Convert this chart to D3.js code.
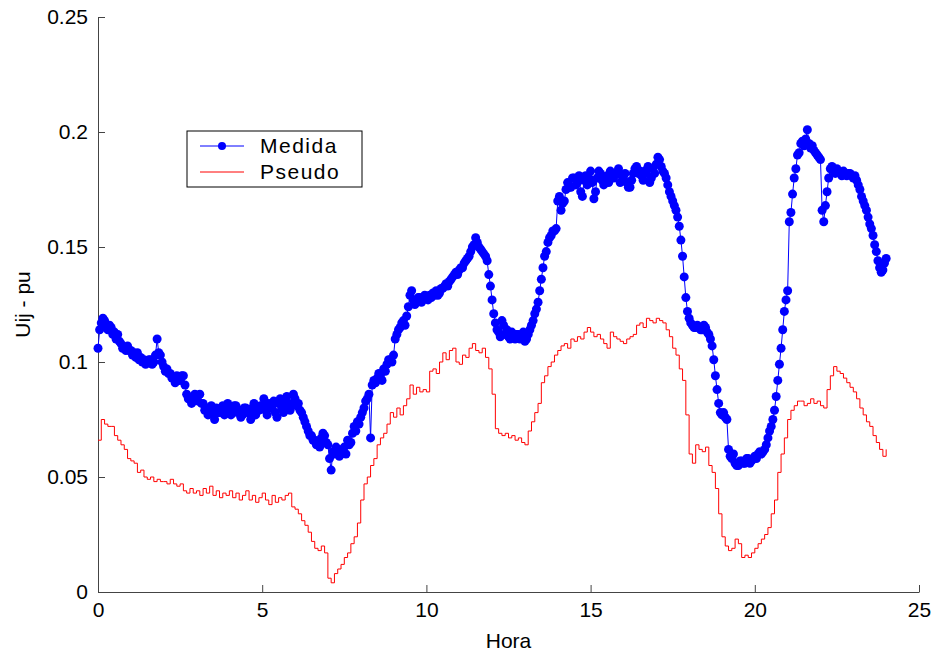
<!DOCTYPE html>
<html>
<head>
<meta charset="utf-8">
<script src="https://cdn.jsdelivr.net/npm/d3@7"></script>
<style>
  body { margin: 0; background: #fff; }
  svg { display: block; font-family: "Liberation Sans", Arial, sans-serif; }
  .axis path, .axis line { stroke: #444; }
  .axis text { font-size: 21px; fill: #000; }
</style>
</head>
<body>
<svg id="chart" width="935" height="657"></svg>
<script>
// Medida sampled every 0.05 h, Pseudo every 0.1 h (0 .. 24 h)
var medidaStep = 0.05;
var pseudoStep = 0.1;

var medida = [
  0.106, 0.114, 0.117, 0.119, 0.118, 0.115, 0.114, 0.116, 0.115, 0.112, 0.113, 0.110, 0.112, 0.109, 0.108, 0.106, 0.106, 0.105, 0.107, 0.105,
  0.105, 0.103, 0.104, 0.102, 0.104, 0.101, 0.102, 0.100, 0.101, 0.099, 0.100, 0.101, 0.101, 0.099, 0.100, 0.103, 0.110, 0.104, 0.103, 0.100,
  0.098, 0.096, 0.097, 0.095, 0.095, 0.093, 0.093, 0.091, 0.094, 0.092, 0.092, 0.094, 0.094, 0.090, 0.086, 0.084, 0.084, 0.082, 0.083, 0.086,
  0.085, 0.083, 0.086, 0.082, 0.082, 0.079, 0.080, 0.077, 0.079, 0.081, 0.077, 0.075, 0.080, 0.078, 0.078, 0.080, 0.081, 0.077, 0.079, 0.082,
  0.080, 0.077, 0.078, 0.081, 0.081, 0.078, 0.079, 0.076, 0.077, 0.080, 0.080, 0.078, 0.078, 0.075, 0.080, 0.082, 0.077, 0.079, 0.079, 0.081,
  0.081, 0.084, 0.079, 0.077, 0.082, 0.080, 0.080, 0.083, 0.078, 0.076, 0.082, 0.084, 0.080, 0.078, 0.083, 0.085, 0.081, 0.079, 0.082, 0.086,
  0.084, 0.081, 0.082, 0.079, 0.078, 0.076, 0.074, 0.072, 0.070, 0.068, 0.068, 0.066, 0.066, 0.064, 0.065, 0.063, 0.067, 0.069, 0.068, 0.065,
  0.064, 0.058, 0.053, 0.061, 0.060, 0.063, 0.062, 0.059, 0.060, 0.062, 0.063, 0.060, 0.066, 0.064, 0.065, 0.069, 0.072, 0.070, 0.074, 0.073,
  0.076, 0.078, 0.080, 0.083, 0.084, 0.086, 0.067, 0.090, 0.092, 0.091, 0.093, 0.095, 0.094, 0.092, 0.097, 0.096, 0.099, 0.101, 0.101, 0.100,
  0.103, 0.110, 0.112, 0.114, 0.115, 0.117, 0.118, 0.116, 0.120, 0.124, 0.129, 0.131, 0.127, 0.125, 0.126, 0.128, 0.128, 0.126, 0.127, 0.129,
  0.128, 0.127, 0.129, 0.128, 0.130, 0.129, 0.131, 0.129, 0.130, 0.132, 0.132, 0.133, 0.134, 0.133, 0.135, 0.136, 0.137, 0.138, 0.139, 0.138,
  0.140, 0.141, 0.141, 0.143, 0.144, 0.145, 0.146, 0.148, 0.150, 0.151, 0.154, 0.152, 0.150, 0.149, 0.148, 0.147, 0.146, 0.144, 0.138, 0.133,
  0.127, 0.121, 0.117, 0.114, 0.113, 0.111, 0.118, 0.116, 0.112, 0.114, 0.111, 0.110, 0.113, 0.112, 0.110, 0.112, 0.112, 0.110, 0.111, 0.113,
  0.109, 0.110, 0.112, 0.114, 0.116, 0.118, 0.121, 0.123, 0.126, 0.131, 0.136, 0.141, 0.146, 0.148, 0.152, 0.154, 0.155, 0.157, 0.157, 0.158,
  0.170, 0.172, 0.166, 0.169, 0.170, 0.175, 0.178, 0.176, 0.176, 0.180, 0.180, 0.177, 0.178, 0.181, 0.174, 0.172, 0.179, 0.181, 0.177, 0.180,
  0.183, 0.178, 0.171, 0.174, 0.180, 0.183, 0.182, 0.179, 0.177, 0.180, 0.181, 0.178, 0.183, 0.181, 0.180, 0.182, 0.182, 0.184, 0.178, 0.181,
  0.180, 0.182, 0.178, 0.176, 0.176, 0.179, 0.182, 0.184, 0.185, 0.182, 0.183, 0.181, 0.179, 0.183, 0.182, 0.185, 0.178, 0.180, 0.184, 0.182,
  0.186, 0.189, 0.188, 0.185, 0.183, 0.182, 0.180, 0.177, 0.174, 0.172, 0.170, 0.168, 0.166, 0.163, 0.159, 0.153, 0.146, 0.137, 0.128, 0.122,
  0.119, 0.117, 0.116, 0.115, 0.115, 0.116, 0.115, 0.114, 0.114, 0.116, 0.115, 0.113, 0.112, 0.110, 0.107, 0.101, 0.094, 0.088, 0.082, 0.078,
  0.077, 0.078, 0.076, 0.075, 0.062, 0.059, 0.058, 0.060, 0.056, 0.055, 0.055, 0.057, 0.057, 0.056, 0.056, 0.058, 0.058, 0.056, 0.057, 0.058,
  0.059, 0.058, 0.060, 0.061, 0.060, 0.061, 0.062, 0.064, 0.067, 0.070, 0.072, 0.075, 0.079, 0.085, 0.092, 0.099, 0.106, 0.114, 0.122, 0.127,
  0.131, 0.161, 0.165, 0.173, 0.180, 0.184, 0.190, 0.191, 0.195, 0.196, 0.194, 0.197, 0.201, 0.195, 0.193, 0.194, 0.192, 0.191, 0.190, 0.189,
  0.188, 0.166, 0.161, 0.168, 0.174, 0.180, 0.184, 0.185, 0.183, 0.182, 0.184, 0.183, 0.182, 0.181, 0.183, 0.182, 0.181, 0.182, 0.182, 0.181,
  0.180, 0.181, 0.179, 0.177, 0.175, 0.172, 0.170, 0.168, 0.166, 0.163, 0.160, 0.158, 0.155, 0.151, 0.148, 0.144, 0.141, 0.139, 0.140, 0.143,
  0.145
];

var pseudo = [
  0.066, 0.075, 0.073, 0.072, 0.072, 0.068, 0.066, 0.064, 0.062, 0.058,
  0.057, 0.056, 0.052, 0.053, 0.050, 0.049, 0.050, 0.048, 0.049, 0.048,
  0.048, 0.047, 0.049, 0.047, 0.046, 0.047, 0.044, 0.043, 0.045, 0.043,
  0.044, 0.042, 0.045, 0.043, 0.046, 0.042, 0.044, 0.041, 0.043, 0.042,
  0.044, 0.041, 0.043, 0.040, 0.042, 0.044, 0.040, 0.042, 0.039, 0.041,
  0.043, 0.040, 0.038, 0.042, 0.039, 0.041, 0.040, 0.042, 0.043, 0.037,
  0.036, 0.034, 0.031, 0.029, 0.026, 0.022, 0.019, 0.018, 0.020, 0.017,
  0.006, 0.004, 0.008, 0.010, 0.012, 0.015, 0.017, 0.021, 0.024, 0.030,
  0.040, 0.047, 0.050, 0.055, 0.058, 0.064, 0.067, 0.069, 0.073, 0.078,
  0.076, 0.080, 0.077, 0.081, 0.084, 0.090, 0.086, 0.089, 0.087, 0.088,
  0.087, 0.096, 0.097, 0.095, 0.100, 0.104, 0.101, 0.105, 0.106, 0.100,
  0.099, 0.103, 0.102, 0.106, 0.108, 0.105, 0.104, 0.106, 0.102, 0.097,
  0.086, 0.071, 0.069, 0.068, 0.069, 0.067, 0.068, 0.066, 0.067, 0.065,
  0.064, 0.070, 0.074, 0.078, 0.082, 0.091, 0.094, 0.098, 0.100, 0.103,
  0.105, 0.107, 0.108, 0.106, 0.110, 0.109, 0.111, 0.110, 0.113, 0.115,
  0.113, 0.111, 0.112, 0.110, 0.108, 0.106, 0.113, 0.111, 0.110, 0.109,
  0.108, 0.110, 0.111, 0.112, 0.116, 0.117, 0.115, 0.119, 0.118, 0.117,
  0.119, 0.118, 0.117, 0.114, 0.111, 0.106, 0.103, 0.097, 0.092, 0.077,
  0.060, 0.056, 0.064, 0.062, 0.061, 0.063, 0.055, 0.052, 0.045, 0.034,
  0.024, 0.020, 0.018, 0.019, 0.023, 0.021, 0.015, 0.016, 0.015, 0.017,
  0.019, 0.021, 0.023, 0.025, 0.028, 0.034, 0.040, 0.052, 0.060, 0.067,
  0.075, 0.079, 0.081, 0.083, 0.083, 0.081, 0.082, 0.084, 0.082, 0.083,
  0.081, 0.080, 0.088, 0.094, 0.098, 0.096, 0.095, 0.093, 0.091, 0.089,
  0.087, 0.084, 0.080, 0.077, 0.074, 0.072, 0.068, 0.065, 0.062, 0.059,
  0.062
];

var xTicks = [0, 5, 10, 15, 20, 25];
var yTicks = [0, 0.05, 0.1, 0.15, 0.2, 0.25];

var margin = { top: 17, right: 15, bottom: 65, left: 98 },
    width = 935 - margin.left - margin.right,
    height = 657 - margin.top - margin.bottom;

var svg = d3.select("#chart");
var g = svg.append("g")
    .attr("transform", "translate(" + margin.left + "," + margin.top + ")");

var x = d3.scaleLinear().domain([0, 25]).range([0, 821]);
var y = d3.scaleLinear().domain([0, 0.25]).range([height, 0]);

function hourAt(i, step) { return Math.round(i * step * 100) / 100; }

// axes, ticks pointing inward like the original
g.append("g")
    .attr("class", "axis")
    .attr("transform", "translate(0," + height + ")")
    .call(d3.axisBottom(x).tickValues(xTicks).tickSizeInner(-7).tickSizeOuter(0).tickPadding(10)
        .tickFormat(function (d) { return d; }));

g.append("g")
    .attr("class", "axis")
    .call(d3.axisLeft(y).tickValues(yTicks).tickSizeInner(-7).tickSizeOuter(0).tickPadding(10)
        .tickFormat(function (d) { return d; }));

// Pseudo (red)
var redLine = d3.line()
    .x(function (d, i) { return x(hourAt(i, pseudoStep)); })
    .y(function (d) { return y(d); })
    .curve(d3.curveStepAfter);

g.append("path")
    .datum(pseudo)
    .attr("fill", "none")
    .attr("stroke", "#ff0000")
    .attr("stroke-width", 1)
    .attr("d", redLine);

// Medida (blue, with markers)
var blueLine = d3.line()
    .x(function (d, i) { return x(hourAt(i, medidaStep)); })
    .y(function (d) { return y(d); });

g.append("path")
    .datum(medida)
    .attr("fill", "none")
    .attr("stroke", "#0000ff")
    .attr("stroke-width", 1)
    .attr("d", blueLine);

g.selectAll(".dot")
    .data(medida)
    .enter().append("circle")
    .attr("class", "dot")
    .attr("cx", function (d, i) { return x(hourAt(i, medidaStep)); })
    .attr("cy", function (d) { return y(d); })
    .attr("r", 4.5)
    .attr("fill", "#0000ff");

// axis titles
svg.append("text")
    .attr("x", margin.left + x(12.5))
    .attr("y", 648)
    .attr("text-anchor", "middle")
    .style("font-size", "21px")
    .text("Hora");

svg.append("text")
    .attr("transform", "translate(30," + (margin.top + height / 2) + ") rotate(-90)")
    .attr("text-anchor", "middle")
    .style("font-size", "21px")
    .text("Uij - pu");

// legend
var legend = svg.append("g").attr("transform", "translate(187,131)");
legend.append("rect")
    .attr("width", 175).attr("height", 56)
    .attr("fill", "#fff").attr("stroke", "#000").attr("stroke-width", 1);

legend.append("line").attr("x1", 13).attr("x2", 57).attr("y1", 15).attr("y2", 15)
    .attr("stroke", "#0000ff");
legend.append("circle").attr("cx", 35).attr("cy", 15).attr("r", 4).attr("fill", "#0000ff");
legend.append("text").attr("x", 73).attr("y", 22).style("font-size", "21px")
    .style("letter-spacing", "1.5px").text("Medida");

legend.append("line").attr("x1", 13).attr("x2", 57).attr("y1", 41).attr("y2", 41)
    .attr("stroke", "#ff0000");
legend.append("text").attr("x", 73).attr("y", 48).style("font-size", "21px")
    .style("letter-spacing", "1.5px").text("Pseudo");
</script>
</body>
</html>
